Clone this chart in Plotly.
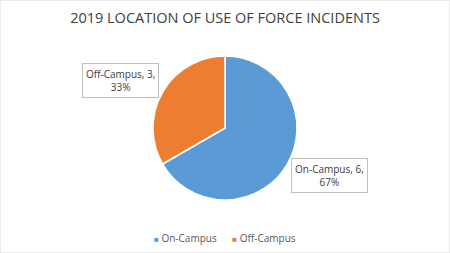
import plotly.graph_objects as go

categories = ["On-Campus", "Off-Campus"]
values = [6, 3]
colors = ["#5B9BD5", "#ED7D31"]
title_text = "2019 LOCATION OF USE OF FORCE INCIDENTS"

W, H = 450, 253
total = sum(values)

fig = go.Figure(go.Pie(
    labels=categories, values=values, sort=False, direction="clockwise",
    rotation=0, marker=dict(colors=colors, line=dict(color="white", width=1.5)),
    textinfo="none", hoverinfo="label+value+percent", showlegend=False,
    domain=dict(x=[(225 - 72) / W, (225 + 72) / W], y=[(H - 200) / H, (H - 56) / H]),
))

font = "Open Sans"
label_pos = {"On-Campus": (329, 175), "Off-Campus": (120, 81)}
for c, v in zip(categories, values):
    px, py = label_pos[c]
    fig.add_annotation(
        x=px / W, y=1 - py / H, xref="paper", yref="paper", showarrow=False,
        xanchor="center", yanchor="middle",
        text=f"{c}, {v},<br>{round(100 * v / total)}%",
        font=dict(family=font, size=10, color="#404040"),
        bordercolor="#BFBFBF", borderwidth=1, borderpad=3, bgcolor="white",
        align="center",
    )

legend_text = "      ".join(
    f"<span style='color:{col}; font-size:8px'>■</span> {c}" for c, col in zip(categories, colors)
)
fig.add_annotation(
    x=0.5, y=1 - 238 / H, xref="paper", yref="paper", showarrow=False,
    xanchor="center", yanchor="middle", text=legend_text,
    font=dict(family=font, size=10, color="#595959"),
)

fig.add_shape(type="rect", xref="paper", yref="paper", x0=0, y0=0, x1=1, y1=1,
              line=dict(color="#D9D9D9", width=1))

fig.update_layout(
    width=W, height=H, margin=dict(l=0, r=0, t=0, b=0),
    paper_bgcolor="white", plot_bgcolor="white",
    title=dict(text=title_text, x=0.5, xanchor="center", y=1 - 18 / H, yanchor="middle",
               font=dict(family=font, size=14.5, color="#404040")),
    showlegend=False,
)

fig.write_html("out.html")
